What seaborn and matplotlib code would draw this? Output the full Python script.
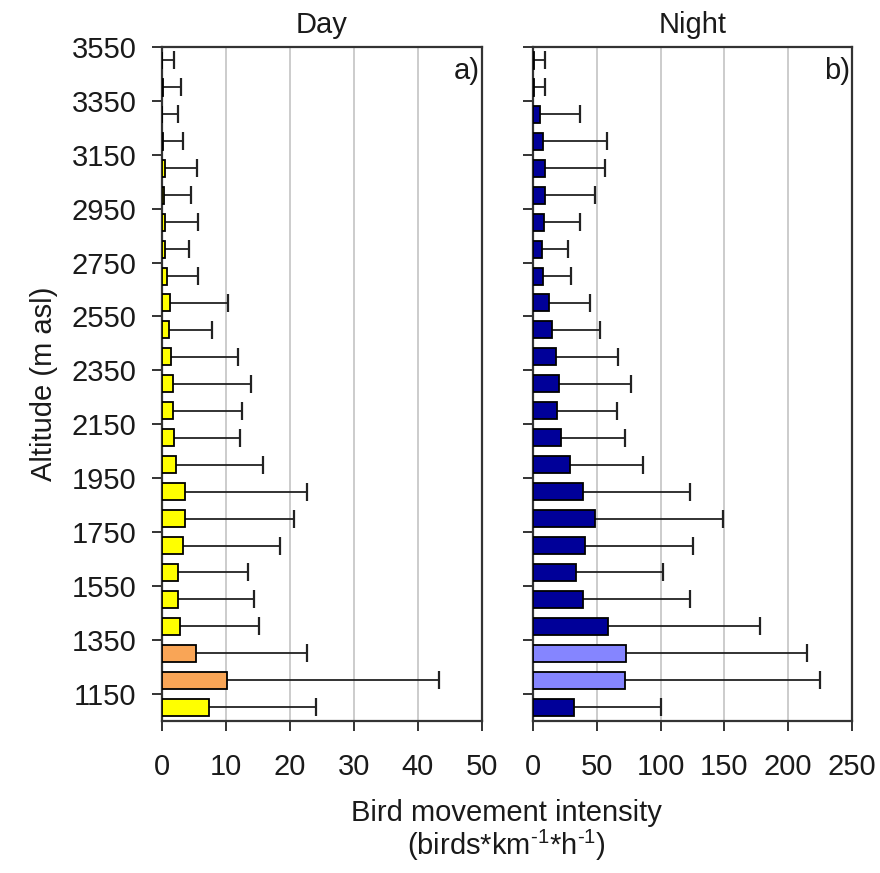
import numpy as np
import pandas as pd
import matplotlib
matplotlib.use("Agg")
import matplotlib.pyplot as plt
import seaborn as sns

# ---------------- data ----------------
altitude = [1100, 1200, 1300, 1400, 1500, 1600, 1700, 1800, 1900, 2000,
            2100, 2200, 2300, 2400, 2500, 2600, 2700, 2800, 2900, 3000,
            3100, 3200, 3300, 3400, 3500]

day_mean = [7.4, 10.2, 5.3, 2.9, 2.6, 2.5, 3.4, 3.6, 3.6, 2.3,
            1.9, 1.7, 1.8, 1.5, 1.1, 1.3, 0.8, 0.5, 0.6, 0.4,
            0.5, 0.2, 0.1, 0.2, 0.1]
day_err = [16.7, 33.1, 17.4, 12.3, 11.8, 10.9, 15.0, 17.1, 19.1, 13.5,
           10.3, 10.8, 12.2, 10.4, 6.8, 9.0, 4.9, 3.8, 5.0, 4.2,
           5.0, 3.2, 2.4, 2.8, 1.8]

night_mean = [31.9, 71.7, 72.7, 59.0, 38.7, 33.8, 40.5, 48.6, 39.0, 28.6,
              21.8, 19.0, 20.3, 17.7, 14.6, 12.0, 7.8, 6.5, 8.3, 9.1,
              9.1, 7.8, 5.2, 0.5, 0.5]
night_err = [68.1, 153.7, 141.8, 119.0, 83.9, 68.0, 85.2, 100.2, 84.3, 57.4,
             50.4, 46.4, 56.3, 48.8, 37.9, 32.7, 21.6, 20.8, 28.6, 39.5,
             47.3, 49.8, 31.7, 8.6, 8.6]

highlight = [1200, 1300]
ytick_labels = [1150, 1350, 1550, 1750, 1950, 2150, 2350, 2550, 2750, 2950, 3150, 3350, 3550]
day_xticks = [0, 10, 20, 30, 40, 50]
night_xticks = [0, 50, 100, 150, 200, 250]

# ---------------- style ----------------
sns.set_style("white")
plt.rcParams['font.family'] = ['Liberation Sans', 'DejaVu Sans']
plt.rcParams['mathtext.default'] = 'regular'
TXT = '#1a1a1a'
plt.rcParams['text.color'] = TXT
plt.rcParams['axes.labelcolor'] = TXT
plt.rcParams['xtick.color'] = TXT
plt.rcParams['ytick.color'] = TXT
FS = 21

fig = plt.figure(figsize=(8.8, 8.73), dpi=100)
ax1 = fig.add_axes([0.1837, 0.1745, 0.3640, 0.7717])
ax2 = fig.add_axes([0.6060, 0.1745, 0.3620, 0.7717])

grp = ['hi' if a in highlight else 'lo' for a in altitude]

panels = [
    (ax1, day_mean, day_err, {'lo': '#FFFF00', 'hi': '#F9A556'}, day_xticks, 'Day', 'a)', True),
    (ax2, night_mean, night_err, {'lo': '#000099', 'hi': '#8585FF'}, night_xticks, 'Night', 'b)', False),
]

for ax, mean, err, pal, xt, title, tag, show_y in panels:
    df = pd.DataFrame({'alt': altitude, 'val': mean, 'grp': grp})
    sns.barplot(data=df, x='val', y='alt', hue='grp', palette=pal, orient='h',
                native_scale=True, dodge=False, width=0.63, legend=False,
                saturation=1, edgecolor='black', linewidth=1.3, ax=ax, zorder=3)
    mean_a = np.array(mean)
    err_a = np.array(err)
    ax.errorbar(mean_a, altitude, xerr=[np.zeros_like(err_a), err_a], fmt='none',
                ecolor='#222222', elinewidth=1.3, capsize=0, zorder=2)
    ax.plot(mean_a + err_a, altitude, linestyle='none', marker='|', markersize=13,
            markeredgewidth=1.6, color='#222222', zorder=2)

    ax.set_ylim(1050, 3550)
    ax.set_yticks(ytick_labels)
    ax.set_xlim(xt[0], xt[-1])
    ax.set_xticks(xt)
    ax.set_xticklabels([str(v) for v in xt], fontsize=FS)
    if show_y:
        ax.set_yticklabels([str(v) for v in ytick_labels], fontsize=FS)
        ax.set_ylabel('Altitude (m asl)', fontsize=FS, labelpad=10)
    else:
        ax.set_yticklabels([])
        ax.set_ylabel('')
    ax.set_xlabel('')
    ax.xaxis.grid(True, color='#c8c8c8', linewidth=1.3)
    ax.yaxis.grid(False)
    ax.set_axisbelow(True)
    for s in ax.spines.values():
        s.set_visible(True)
        s.set_color('#333333')
        s.set_linewidth(1.6)
    ax.tick_params(axis='x', direction='out', length=7, width=1.4, pad=16,
                   color='#333333', bottom=True)
    ax.tick_params(axis='y', direction='out', length=7, width=1.4, pad=11,
                   color='#333333', left=True)
    ax.set_title(title, fontsize=FS, pad=10)
    ax.text(0.993, 0.985, tag, transform=ax.transAxes, ha='right', va='top', fontsize=FS)

fig.text(0.576, 0.060, 'Bird movement intensity', ha='center', va='baseline', fontsize=FS)
fig.text(0.576, 0.021, '(birds*km$^{\u20101}$*h$^{\u20101}$)', ha='center', va='baseline', fontsize=FS)

fig.savefig('out.png', dpi=100, facecolor='white')
